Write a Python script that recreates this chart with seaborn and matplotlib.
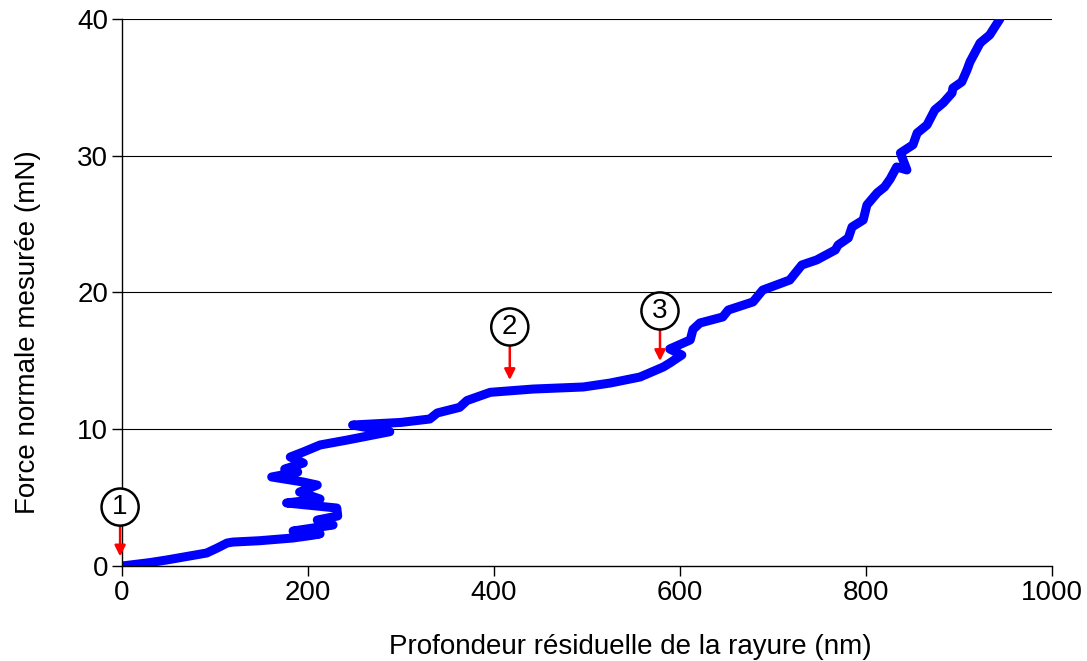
import matplotlib
matplotlib.use("Agg")
import matplotlib.pyplot as plt
import seaborn as sns
import pandas as pd

depth_nm = [0, 30, 48, 91, 102, 113, 119, 148, 184, 205, 213, 184, 227, 210, 232, 231,
            177, 213, 191, 210, 195, 161, 189, 175, 195, 181, 195, 213, 242, 288, 248,
            300, 331, 339, 363, 371, 396, 442, 496, 525, 557, 582, 589, 602, 589, 611,
            614, 621.5, 646, 652, 678.5, 689, 718, 731, 747, 767, 770, 781, 785, 797,
            801, 812, 820, 826, 833, 844, 837, 850.5, 855, 865.6, 874, 883, 892.5,
            893.5, 903, 908.6, 911.8, 920.4, 922.6, 933, 944]
force_mN = [0, 0.25, 0.44, 0.95, 1.3, 1.68, 1.75, 1.85, 2.05, 2.25, 2.35, 2.56, 3.0, 3.36,
            3.66, 4.24, 4.61, 4.9, 5.41, 5.92, 6.14, 6.51, 6.87, 7.09, 7.53, 7.97, 8.34,
            8.85, 9.21, 9.82, 10.31, 10.5, 10.75, 11.19, 11.6, 12.1, 12.7, 12.94, 13.09,
            13.38, 13.82, 14.55, 14.84, 15.43, 15.87, 16.53, 17.3, 17.77, 18.21, 18.72,
            19.31, 20.18, 20.91, 22.01, 22.38, 23.11, 23.47, 23.99, 24.79, 25.3, 26.4,
            27.28, 27.72, 28.3, 29.18, 28.96, 30.2, 30.8, 31.66, 32.25, 33.35, 33.86,
            34.59, 34.95, 35.4, 36.27, 36.86, 37.95, 38.24, 38.83, 40.0]

x_ticks = [0, 200, 400, 600, 800, 1000]
y_ticks = [0, 10, 20, 30, 40]

marker_labels = ["1", "2", "3"]
marker_x = [-2, 417, 578.5]
marker_y = [4.31, 17.48, 18.65]
arrow_tail_y = [3.0, 16.16, 17.33]
arrow_head_y = [0.7, 13.6, 14.99]

sns.set_theme(style="white")
plt.rcParams['font.family'] = ['Liberation Sans', 'DejaVu Sans']

fig = plt.figure(figsize=(10.87, 6.61), dpi=100)
ax = fig.add_axes([0.1122, 0.1437, 0.9678 - 0.1122, 0.9713 - 0.1437])

df = pd.DataFrame({"depth": depth_nm, "force": force_mN})
sns.lineplot(data=df, x="depth", y="force", sort=False, estimator=None,
             color="#0000ff", lw=6.5, ax=ax, solid_capstyle="round", solid_joinstyle="round")

ax.set_xlim(0, 1000)
ax.set_ylim(0, 40)
ax.set_xticks(x_ticks)
ax.set_yticks(y_ticks)
ax.tick_params(axis="both", labelsize=20, direction="out", length=7, width=1,
               color="black", labelcolor="black", left=True, bottom=True, pad=3)
for yv in y_ticks[1:]:
    ax.axhline(yv, color="black", lw=0.8, zorder=0)
for s in ["top", "right"]:
    ax.spines[s].set_visible(False)
for s in ["left", "bottom"]:
    ax.spines[s].set_color("black")
    ax.spines[s].set_linewidth(1)

ax.set_xlabel("Profondeur résiduelle de la rayure (nm)", fontsize=20, labelpad=22, color="black")
ax.set_ylabel("Force normale mesurée (mN)", fontsize=20, labelpad=30, color="black")
ax.xaxis.set_label_coords(0.547, -0.125)
ax.yaxis.set_label_coords(-0.087, 0.428)

for lab, mx, my, ty, hy in zip(marker_labels, marker_x, marker_y, arrow_tail_y, arrow_head_y):
    ax.annotate("", xy=(mx, hy), xytext=(mx, ty),
                arrowprops=dict(arrowstyle="-|>", color="red", lw=1.8, mutation_scale=16,
                                shrinkA=0, shrinkB=0), annotation_clip=False)
    ax.text(mx, my, lab, fontsize=20, ha="center", va="center", color="black", clip_on=False,
            bbox=dict(boxstyle="circle,pad=0.2", fc="white", ec="black", lw=1.8), zorder=5)

fig.savefig("out.png", dpi=100)
